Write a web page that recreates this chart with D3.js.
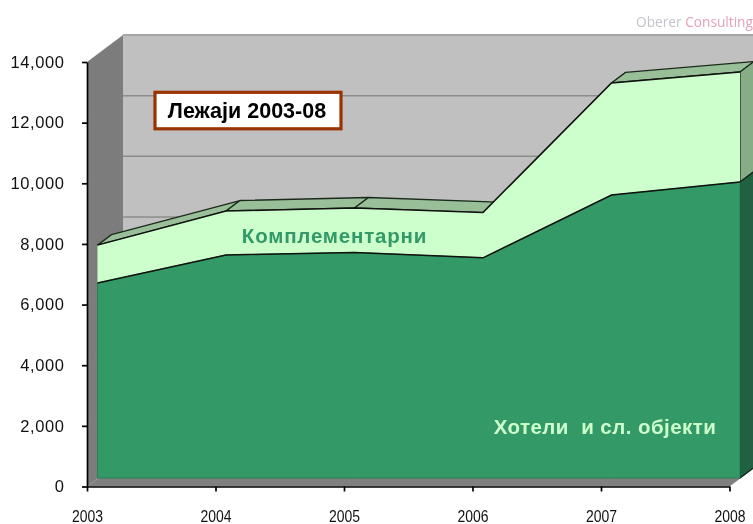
<!DOCTYPE html>
<html>
<head>
<meta charset="utf-8">
<script src="https://cdn.jsdelivr.net/npm/d3@7"></script>
<style>
html, body { margin: 0; padding: 0; background: #fff; }
svg { display: block; font-family: "Liberation Sans", Arial, sans-serif; filter: blur(0.4px); }
</style>
</head>
<body>
<div id="chart"></div>
<script>
var years = ["2003", "2004", "2005", "2006", "2007", "2008"];
var hoteli = [6430, 7355, 7440, 7260, 9330, 9760];
var komplementarni = [1250, 1450, 1465, 1495, 3700, 3630];
var yTicks = [0, 2000, 4000, 6000, 8000, 10000, 12000, 14000];

var width = 753
var height = 524

var x = d3.scalePoint().domain(years).range([87, 729.5]);
var y = d3.scaleLinear().domain([0, 14000]).range([486.5, 62]);

// 3d offsets: front of the series, its back edge, and the back wall
var front = [10.5, -8.5];
var sideD = [14, -10.5];
var wallD = [36, -27];

var svg = d3.select("#chart").append("svg")
    .attr("width", width)
    .attr("height", height)

var stackTop = hoteli.map(function (d, i) { return d + komplementarni[i]; });

function fx(i) { return x(years[i]) + front[0]; }
function fy(v) { return y(v) + front[1]; }

function poly(pts, fill, stroke) {
    return svg.append("polygon")
        .attr("points", pts.map(function (p) { return p.join(","); }).join(" "))
        .attr("fill", fill)
        .attr("stroke", stroke || "none")
        .attr("stroke-width", stroke ? 1.3 : 0)
        .attr("stroke-linejoin", "round");
}

// walls and floor
var x0 = x(years[0]), x1 = x(years[5]), y0 = y(0), yT = y(14000);
poly([[x0, y0], [x0 + wallD[0], y0 + wallD[1]], [x1 + wallD[0], y0 + wallD[1]], [x1, y0]], "#808080");
poly([[x0 + wallD[0], yT + wallD[1]], [x1 + wallD[0], yT + wallD[1]], [x1 + wallD[0], y0 + wallD[1]], [x0 + wallD[0], y0 + wallD[1]]], "#c0c0c0");
poly([[x0, yT], [x0 + wallD[0], yT + wallD[1]], [x0 + wallD[0], y0 + wallD[1]], [x0, y0]], "#7c7c7c");

svg.append("line")
    .attr("x1", x0 + wallD[0]).attr("x2", x1 + wallD[0])
    .attr("y1", yT + wallD[1]).attr("y2", yT + wallD[1])
    .attr("stroke", "#a6a6a6").attr("stroke-width", 2);

// gridlines on back and left wall
yTicks.slice(1, -1).forEach(function (t) {
    svg.append("line")
        .attr("x1", x0 + wallD[0]).attr("x2", x1 + wallD[0])
        .attr("y1", y(t) + wallD[1]).attr("y2", y(t) + wallD[1])
        .attr("stroke", "#8c8c8c").attr("stroke-width", 1.5);
    svg.append("line")
        .attr("x1", x0).attr("x2", x0 + wallD[0])
        .attr("y1", y(t)).attr("y2", y(t) + wallD[1])
        .attr("stroke", "#808080").attr("stroke-width", 1);
});

// top faces of the light series, one per segment
for (var i = 0; i < 5; i++) {
    poly([
        [fx(i), fy(stackTop[i])],
        [fx(i) + sideD[0], fy(stackTop[i]) + sideD[1]],
        [fx(i + 1) + sideD[0], fy(stackTop[i + 1]) + sideD[1]],
        [fx(i + 1), fy(stackTop[i + 1])]
    ], "#99bf99", "#1c2a1c");
}

// right side faces
poly([
    [fx(5), fy(stackTop[5])],
    [fx(5) + sideD[0], fy(stackTop[5]) + sideD[1]],
    [fx(5) + sideD[0], fy(hoteli[5]) + sideD[1]],
    [fx(5), fy(hoteli[5])]
], "#86ad86", "#1c2a1c");
poly([
    [fx(5), fy(hoteli[5])],
    [fx(5) + sideD[0], fy(hoteli[5]) + sideD[1]],
    [fx(5) + sideD[0], fy(0) + sideD[1]],
    [fx(5), fy(0)]
], "#1f6141", "#14291d");

// front faces
var areaTop = d3.area()
    .x(function (d, i) { return fx(i); })
    .y0(function (d, i) { return fy(hoteli[i]); })
    .y1(function (d) { return fy(d); });

var areaBottom = d3.area()
    .x(function (d, i) { return fx(i); })
    .y0(fy(0))
    .y1(function (d) { return fy(d); });

var edge = d3.line()
    .x(function (d, i) { return fx(i); })
    .y(function (d) { return fy(d); });

svg.append("path")
    .attr("d", areaTop(stackTop))
    .attr("fill", "#ccffcc");

svg.append("path")
    .attr("d", areaBottom(hoteli))
    .attr("fill", "#339966")
    .attr("stroke", "#2b7f56")
    .attr("stroke-width", 1);

[stackTop, hoteli].forEach(function (s) {
    svg.append("path")
        .attr("d", edge(s))
        .attr("fill", "none")
        .attr("stroke", "#111")
        .attr("stroke-width", 1.5);
});

// axes
var yAxis = d3.axisLeft(y)
    .tickValues(yTicks)
    .tickFormat(d3.format(","))
    .tickSize(5)
    .tickSizeOuter(0);

svg.append("g")
    .attr("transform", "translate(" + x0 + ",0)")
    .call(yAxis)
    .call(function (g) {
        g.selectAll("path,line").attr("stroke", "#000").attr("stroke-width", 1.7);
        g.selectAll("text").attr("fill", "#111").attr("font-size", 16.5).attr("x", -22.5)
            .attr("letter-spacing", 0.6).attr("font-family", "Liberation Sans");
    });

var xAxis = d3.axisBottom(x).tickSize(5).tickSizeOuter(0);

svg.append("g")
    .attr("transform", "translate(0," + y0 + ")")
    .call(xAxis)
    .call(function (g) {
        g.selectAll("path,line").attr("stroke", "#000").attr("stroke-width", 1.7);
        g.selectAll("text").attr("fill", "#111").attr("font-size", 16).attr("y", 24)
            .attr("textLength", 31).attr("lengthAdjust", "spacingAndGlyphs")
            .attr("font-family", "Liberation Sans");
    });

// title box
svg.append("rect")
    .attr("x", 155).attr("y", 92.3)
    .attr("width", 186).attr("height", 36.5)
    .attr("fill", "#fff")
    .attr("stroke", "#993300")
    .attr("stroke-width", 3.2);

svg.append("text")
    .attr("x", 247).attr("y", 118)
    .attr("text-anchor", "middle")
    .attr("font-size", 21.5)
    .attr("font-weight", "bold")
    .attr("fill", "#000")
    .text("Лежаји 2003-08");

svg.append("text")
    .attr("x", 334.5).attr("y", 242.5)
    .attr("text-anchor", "middle")
    .attr("font-size", 20.5)
    .attr("font-weight", "bold")
    .attr("letter-spacing", 0.8)
    .attr("fill", "#339966")
    .text("Комплементарни");

svg.append("text")
    .attr("x", 605).attr("y", 434)
    .attr("text-anchor", "middle")
    .attr("font-size", 20.5)
    .attr("font-weight", "bold")
    .attr("letter-spacing", 0.45)
    .attr("fill", "#ccffcc")
    .style("white-space", "pre")
    .text("Хотели  и сл. објекти");

// watermark over the top of the wall
svg.append("rect")
    .attr("x", 630).attr("y", 12)
    .attr("width", 123).attr("height", 22)
    .attr("fill", "#fff");

var mark = svg.append("text")
    .attr("x", 636).attr("y", 27)
    .attr("font-size", 13.7)
    .attr("font-family", "Open Sans");
mark.append("tspan").attr("fill", "#c2c4cc").text("Oberer ");
mark.append("tspan").attr("fill", "#e3a3b4").text("Consulting");
</script>
</body>
</html>
